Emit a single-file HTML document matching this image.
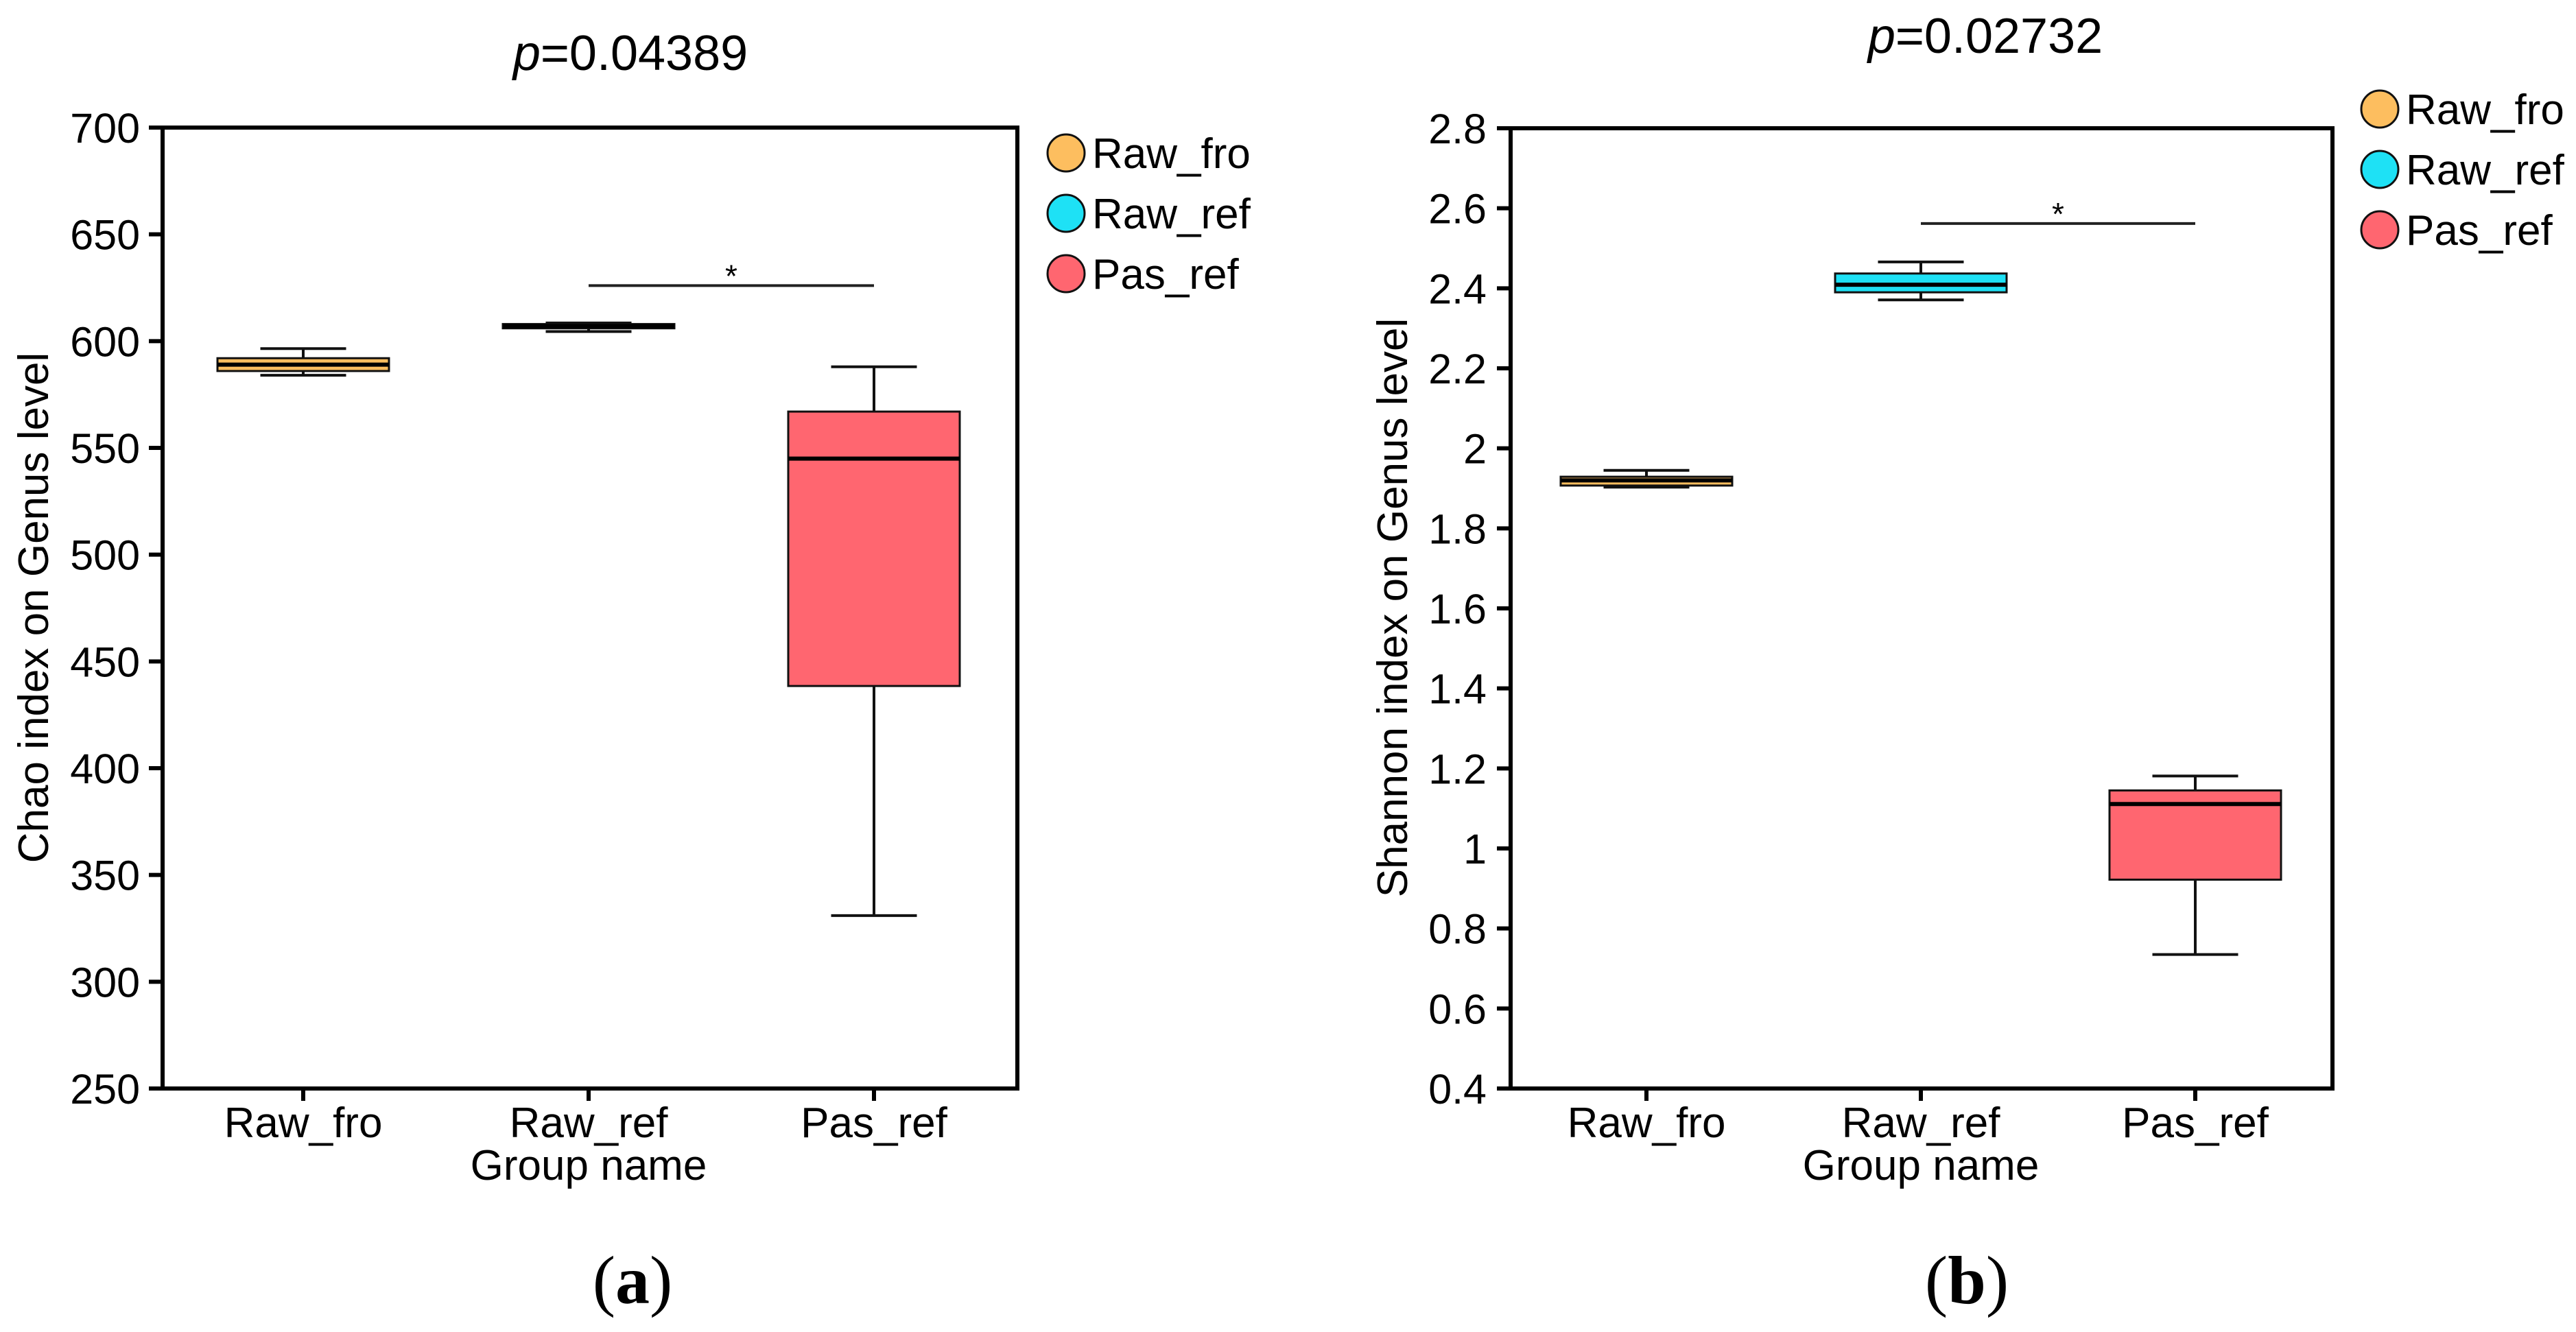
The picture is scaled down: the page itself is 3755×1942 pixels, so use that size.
<!DOCTYPE html>
<html><head><meta charset="utf-8">
<style>
html,body{margin:0;padding:0;background:#fff;}
svg{display:block;font-family:"Liberation Sans",Arial,sans-serif;}
</style></head>
<body>
<svg id="fig" width="3755" height="1942" viewBox="0 0 3755 1942" xmlns="http://www.w3.org/2000/svg"></svg>
<script>
const categories = ["Raw_fro", "Raw_ref", "Pas_ref"];
const colors = ["#FDBE5F", "#1EE1F5", "#FF6670"];
// Chart a: Chao index  [min, q1, median, q3, max]
const chaoTicks = [250, 300, 350, 400, 450, 500, 550, 600, 650, 700];
const chaoRawFro = [584, 586, 589, 592, 596.5];
const chaoRawRef = [604.5, 606, 607, 608, 608.5];
const chaoPasRef = [331, 438.5, 545, 567, 588];
const chaoSig = 626;
// Chart b: Shannon index
const shanTicks = ["0.4", "0.6", "0.8", "1", "1.2", "1.4", "1.6", "1.8", "2", "2.2", "2.4", "2.6", "2.8"];
const shanRawFro = [1.903, 1.907, 1.92, 1.929, 1.945];
const shanRawRef = [2.371, 2.39, 2.409, 2.437, 2.466];
const shanPasRef = [0.735, 0.922, 1.111, 1.145, 1.181];
const shanSig = 2.562;

const NS = "http://www.w3.org/2000/svg";
const svg = document.getElementById("fig");
function mk(tag, attrs, parent, text) {
  const e = document.createElementNS(NS, tag);
  for (const k in attrs) e.setAttribute(k, attrs[k]);
  if (text !== undefined) e.textContent = text;
  (parent || svg).appendChild(e);
  return e;
}

function drawChart(cfg) {
  const g = mk("g", {});
  
  
  const {L, R, T, B, ymin, ymax} = cfg;
  const y = v => B - (v - ymin) / (ymax - ymin) * (B - T);
  const x = i => cfg.x0 + i * cfg.dx;
  cfg.series.forEach((s, i) => {
    const bg = mk("g", {}, g);
    
    
    const cx = x(i), hw = 125, cw = 62.5;
    mk("line", {x1: cx, x2: cx, y1: y(s[4]), y2: y(s[3]), stroke: "#111", "stroke-width": 4}, bg);
    mk("line", {x1: cx, x2: cx, y1: y(s[1]), y2: y(s[0]), stroke: "#111", "stroke-width": 4}, bg);
    mk("line", {x1: cx - cw, x2: cx + cw, y1: y(s[4]), y2: y(s[4]), stroke: "#111", "stroke-width": 4}, bg);
    mk("line", {x1: cx - cw, x2: cx + cw, y1: y(s[0]), y2: y(s[0]), stroke: "#111", "stroke-width": 4}, bg);
    mk("rect", {x: cx - hw, y: y(s[3]), width: 2 * hw, height: Math.max(1, y(s[1]) - y(s[3])), fill: colors[i], stroke: "#111", "stroke-width": 3}, bg);
    mk("line", {x1: cx - hw, x2: cx + hw, y1: y(s[2]), y2: y(s[2]), stroke: "#000", "stroke-width": 6}, bg);
  });
  const sy = y(cfg.sig);
  const sl = mk("line", {x1: x(1), x2: x(2), y1: sy, y2: sy, stroke: "#222", "stroke-width": 4}, g);
  
  
  const st = mk("text", {x: (x(1) + x(2)) / 2, y: sy + 2, "text-anchor": "middle", "font-size": 46}, g, "*");
  
  
  const fr = mk("rect", {x: L, y: T, width: R - L, height: B - T, fill: "none", stroke: "#000", "stroke-width": 6}, g);
  
  
  cfg.ticks.forEach(t => {
    const v = parseFloat(t), ty = y(v);
    mk("line", {x1: L - 20, x2: L, y1: ty, y2: ty, stroke: "#000", "stroke-width": 6}, g);
    const tl = mk("text", {x: cfg.labelRight, y: ty + 22, "text-anchor": "end", "font-size": 61}, g, String(t));
    
    
  });
  categories.forEach((c, i) => {
    mk("line", {x1: x(i), x2: x(i), y1: B, y2: B + 18, stroke: "#000", "stroke-width": 6}, g);
    const xl = mk("text", {x: x(i), y: 1658, "text-anchor": "middle", "font-size": 62}, g, c);
    
    
  });
  const xt = mk("text", {x: x(1), y: 1720, "text-anchor": "middle", "font-size": 62}, g, "Group name");
  
  
  const yt = mk("text", {x: 0, y: 0, "text-anchor": "middle", "font-size": 62, transform: `translate(${cfg.ytX},886) rotate(-90)`}, g, cfg.ytitle);
  
  
  const ti = mk("text", {x: cfg.titleX, y: cfg.titleY, "text-anchor": "middle", "font-size": 72}, g);
  
  
  mk("tspan", {"font-style": "italic"}, ti, "p");
  mk("tspan", {}, ti, cfg.ptext);
  categories.forEach((c, i) => {
    const lg = mk("g", {}, g);
    
    
    const ly = cfg.legY + i * 88;
    mk("circle", {cx: cfg.legX, cy: ly, r: 27, fill: colors[i], stroke: "#111", "stroke-width": 3}, lg);
    mk("text", {x: cfg.legX + 38, y: ly + 22, "font-size": 62}, lg, c);
  });
  const pl = mk("text", {x: cfg.panelX, y: 1900, "text-anchor": "middle", "font-size": 100, "font-family": "Liberation Serif, serif"}, g);
  
  
  mk("tspan", {}, pl, "(");
  mk("tspan", {"font-weight": "bold"}, pl, cfg.panel);
  mk("tspan", {}, pl, ")");
}

drawChart({name: "chart-chao", L: 237, R: 1483, T: 186, B: 1587, ymin: 250, ymax: 700,
  x0: 442, dx: 416, series: [chaoRawFro, chaoRawRef, chaoPasRef], sig: chaoSig,
  ticks: chaoTicks, labelRight: 204, ytX: 70, ytitle: "Chao index on Genus level",
  titleX: 919, titleY: 102, ptext: "=0.04389", legX: 1554, legY: 223, panelX: 922, panel: "a"});
drawChart({name: "chart-shannon", L: 2202, R: 3400, T: 187, B: 1587, ymin: 0.4, ymax: 2.8,
  x0: 2400, dx: 400, series: [shanRawFro, shanRawRef, shanPasRef], sig: shanSig,
  ticks: shanTicks, labelRight: 2167, ytX: 2051, ytitle: "Shannon index on Genus level",
  titleX: 2894, titleY: 77, ptext: "=0.02732", legX: 3469, legY: 159, panelX: 2867, panel: "b"});
</script>
</body></html>
